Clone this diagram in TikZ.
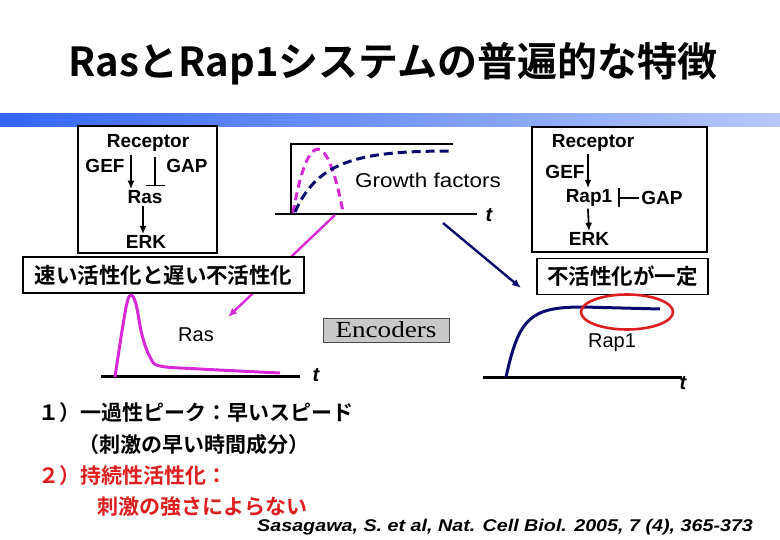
\documentclass[tikz,border=0pt]{standalone}
\usepackage{fontspec}
\setmainfont{Liberation Sans}
\newfontfamily\jpfont{Noto Sans CJK JP}[BoldFont={Noto Sans CJK JP Bold}]
\newfontfamily\encfont{Liberation Serif}
\usetikzlibrary{arrows.meta,positioning}
\definecolor{ras_magenta}{RGB}{214,40,214}
\definecolor{rap_navy}{RGB}{10,10,110}
\definecolor{mark_red}{RGB}{222,30,30}
\definecolor{bar_left}{RGB}{51,102,255}
\definecolor{bar_right}{RGB}{182,200,248}
\definecolor{enc_gray}{RGB}{200,200,200}

\begin{document}
\begin{tikzpicture}[x=1pt, y=-1pt,
          lbl/.style={inner sep=0pt, font=\fontsize{19}{19}\selectfont\bfseries},
          plain/.style={inner sep=0pt, font=\fontsize{20}{20}\selectfont},
          tlbl/.style={inner sep=0pt, font=\fontsize{20}{20}\selectfont\bfseries\itshape},
          frame/.style={draw, line width=1.1pt, inner sep=0pt},
          jpbox/.style={draw, line width=1.7pt, fill=white, inner sep=0pt,
                        minimum height=36pt,
                        font=\jpfont\bfseries\fontsize{21.5}{21.5}\selectfont},
          jptxt/.style={inner sep=0pt, anchor=west,
                        font=\jpfont\bfseries\fontsize{21}{21}\selectfont},
          arr/.style={-{Latex[length=8.5pt,width=7pt]}, line width=1.8pt},
          inh/.style={-{Bar[width=19pt]}, line width=1.1pt},
          axis/.style={line width=3pt}]
        \useasboundingbox (0,0) rectangle (780,540);
        % title and bar
        \node[inner sep=0pt, font=\jpfont\bfseries\fontsize{40}{40}\selectfont]
          (title) at (393,64) {RasとRap1システムの普遍的な特徴};
        \shade[left color=bar_left, right color=bar_right] (0,114) rectangle (780,127);

        % Ras pathway
        \node[frame, minimum width=139pt, minimum height=127pt] (lbox) at (147.5,189.5) {};
        \node[lbl] (rec1) at (148,143) {Receptor};
        \node[lbl] (gef1) at (105,166) {GEF};
        \node[lbl] (gap1) at (187,166) {GAP};
        \node[lbl] (ras1) at (145,197) {Ras};
        \node[lbl] (erk1) at (146,242) {ERK};
        \draw[arr] ([xshift=-17pt,yshift=-3pt]rec1.south) -- ([xshift=-14pt,yshift=1pt]ras1.north);
        \draw[inh] ([xshift=7pt,yshift=-5pt]rec1.south) -- ([xshift=10pt,yshift=4pt]ras1.north);
        \draw[arr] ([xshift=-2pt,yshift=-2pt]ras1.south) -- ([xshift=-3pt,yshift=1pt]erk1.north);

        % Rap1 pathway
        \node[frame, minimum width=175pt, minimum height=125pt] (rbox) at (619.5,189.5) {};
        \node[lbl] (rec2) at (593,143) {Receptor};
        \node[lbl] (gef2) at (565,172) {GEF};
        \node[lbl] (rap2) at (589,198) {Rap1};
        \node[lbl] (gap2) at (662,198) {GAP};
        \node[lbl] (erk2) at (589,239) {ERK};
        \draw[arr] ([xshift=-5pt,yshift=-2pt]rec2.south) -- ([xshift=-1pt,yshift=1pt]rap2.north);
        \draw[inh] ([xshift=-2pt]gap2.west) -- ([xshift=6pt]rap2.east);
        \draw[arr] ([xshift=-1pt,yshift=-2pt]rap2.south) -- ([yshift=1pt]erk2.north);

        % growth factor input
        \coordinate (gf0) at (291,214);
        \draw[line width=2.6pt] (gf0) -- (291,144) -- (453,144);
        \draw[axis, line width=2.6pt] (275,214) -- (477,214);
        \node[tlbl] (t0) at (489,215) {t};
        \draw[ras_magenta, line width=3pt, dash pattern=on 8pt off 5pt]
          (293,213) .. controls (308,128) and (327,128) .. (343,212);
        \draw[rap_navy, line width=3pt, dash pattern=on 9pt off 5pt]
          (295,212) .. controls (318,160) and (360,151) .. (453,151);
        \node[plain] (gf) at (428,180) {\scalebox{1.12}[1]{Growth factors}};

        % branch arrows (behind the boxes)
        \coordinate (mg0) at (335,215);
        \coordinate (mg1) at (228,317);
        \coordinate (nv0) at (443,223);
        \coordinate (nv1) at (521,288);
        \draw[ras_magenta, line width=2.4pt, -{Latex[length=9pt,width=7.5pt]}] (mg0) -- (mg1);
        \draw[rap_navy, line width=2.4pt, -{Latex[length=9pt,width=7.5pt]}] (nv0) -- (nv1);

        \node[jpbox, minimum width=281pt] (fast) at (163.5,275) {速い活性化と遅い不活性化};
        \node[jpbox, minimum width=171pt] (const) at (622.5,276.5) {不活性化が一定};

        % Ras response
        \draw[axis] (101,377) -- (300,377);
        \node[tlbl] (t1) at (316,375) {t};
        \draw[ras_magenta, line width=3pt, line join=round] plot[smooth, tension=0.6] coordinates
          {(115,377) (122,331) (127,303) (131,295) (136,304) (142,335) (150,357) (160,366) (200,369) (280,373)};
        \node[plain] (ras) at (196,335) {Ras};

        \node[draw=black!70, fill=enc_gray, line width=0.8pt, minimum width=126pt,
              minimum height=24pt, inner sep=0pt,
              font=\encfont\fontsize{23}{23}\selectfont] (enc) at (386,330)
          {\scalebox{1.18}[1]{Encoders}};

        % Rap1 response
        \draw[axis] (483,378) -- (682,378);
        \node[tlbl] (t2) at (683,383) {t};
        \draw[rap_navy, line width=3pt]
          (506,377) .. controls (519,318) and (530,307) .. (583,307) -- (660,309);
        \draw[mark_red, line width=2.6pt] (627,312) ellipse [x radius=46, y radius=17.5];
        \node[plain] (rap) at (612,343) {Rap1};

        % summary
        \node[jptxt] (s1) at (38,413) {１）一過性ピーク：早いスピード};
        \node[jptxt] (s2) at (78,445) {（刺激の早い時間成分）};
        \node[jptxt, text=mark_red] (s3) at (38,476) {２）持続性活性化：};
        \node[jptxt, text=mark_red] (s4) at (97,507) {刺激の強さによらない};
        \node[inner sep=0pt, anchor=west, font=\fontsize{17}{17}\selectfont\bfseries\itshape]
          (ref) at (257,527) {\scalebox{1.16}[1]{Sasagawa, S. et al, Nat. Cell Biol. 2005, 7 (4), 365-373}};
      \end{tikzpicture}
\end{document}
